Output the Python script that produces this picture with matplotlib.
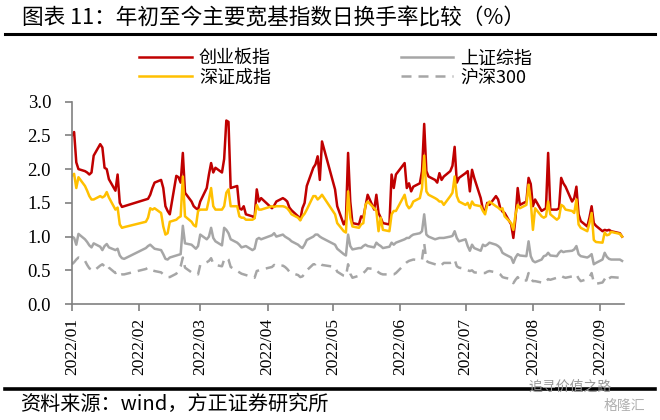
import matplotlib
matplotlib.use('Agg')
import matplotlib.pyplot as plt
from matplotlib.lines import Line2D
import pandas as pd

plt.rcParams['font.family'] = ['Noto Sans CJK SC', 'DejaVu Sans']
plt.rcParams['axes.unicode_minus'] = False

# 交易日（剔除节假日）
holidays = pd.to_datetime(['2022-01-31', '2022-02-01', '2022-02-02', '2022-02-03', '2022-02-04',
                           '2022-04-04', '2022-04-05', '2022-05-02', '2022-05-03', '2022-05-04',
                           '2022-06-03', '2022-09-12'])
dates = pd.bdate_range('2022-01-04', '2022-09-14')
dates = dates[~dates.isin(holidays)]

# 创业板指
cyb = [
    2.50, 2.55, 2.10, 2.00, 1.97, 1.95, 1.92, 1.95, 2.20, 2.37, 2.32, 2.02, 2.00, 1.85, 1.68, 1.92, 1.50, 1.44, 1.45,
    1.55, 1.56, 1.62, 1.72, 1.80, 1.84, 1.72, 1.45, 1.38, 1.33, 1.90, 1.88, 1.80, 2.24, 1.65, 1.52,
    1.45, 1.42, 1.40, 1.52, 1.72, 1.92, 2.09, 1.95, 2.02, 1.95, 2.15, 2.72, 2.70, 1.72, 1.75, 1.42, 1.40, 1.45, 1.33, 1.30, 1.28, 1.70, 1.52,
    1.57, 1.42, 1.46, 1.52, 1.57, 1.55, 1.52, 1.43, 1.39, 1.30, 1.25, 1.42, 1.50, 1.75, 2.02, 2.07, 2.19, 1.84, 2.41,
    1.70, 1.45, 1.18, 1.25, 2.24, 1.52, 1.20, 1.18, 1.30, 1.28, 1.45, 1.62, 1.40, 1.62, 1.35, 1.28, 1.20, 1.18, 1.92,
    1.72, 1.92, 2.09, 1.72, 1.79, 1.67, 1.74, 1.79, 1.97, 2.67, 1.97, 1.89, 1.84, 1.80, 1.94, 1.84, 1.89, 1.97, 2.05, 2.33, 1.80,
    1.87, 1.94, 1.97, 1.67, 1.99, 1.87, 1.57, 1.40, 1.38, 1.50, 1.47, 1.60, 1.55, 1.42, 1.37, 1.35, 1.18, 0.98, 1.28, 1.72, 1.47,
    1.52, 1.87, 1.78, 1.45, 1.55, 1.38, 1.40, 1.42, 2.24, 1.40, 1.40, 1.42, 1.87, 1.79, 1.74, 1.52, 1.57, 1.74, 1.33, 1.23, 1.15, 1.28, 1.45,
    1.20, 1.16, 1.08, 1.10, 1.09, 1.10, 1.08, 1.05, 1.00,
]
# 深证成指
szcz = [
    1.90, 1.93, 1.72, 1.88, 1.75, 1.68, 1.60, 1.55, 1.55, 1.60, 1.58, 1.60, 1.66, 1.58, 1.40, 1.43, 1.18, 1.13, 1.14,
    1.22, 1.28, 1.42, 1.40, 1.42, 1.35, 1.15, 1.03, 1.05, 1.22, 1.25, 1.28, 1.30, 1.89, 1.30, 1.22,
    1.17, 1.15, 1.38, 1.40, 1.40, 1.55, 1.72, 1.45, 1.40, 1.40, 1.45, 1.65, 1.70, 1.45, 1.45, 1.30, 1.28, 1.28, 1.25, 1.25, 1.27, 1.47, 1.40,
    1.40, 1.45, 1.44, 1.45, 1.45, 1.44, 1.42, 1.38, 1.33, 1.28, 1.24, 1.30, 1.34, 1.40, 1.60, 1.60, 1.55, 1.58, 1.62,
    1.33, 1.20, 1.08, 1.06, 1.67, 1.28, 1.15, 1.13, 1.18, 1.20, 1.47, 1.52, 1.42, 1.38, 1.08, 1.28, 1.10, 1.08, 1.33,
    1.38, 1.38, 1.62, 1.47, 1.42, 1.45, 1.52, 1.57, 1.72, 2.20, 1.67, 1.62, 1.57, 1.55, 1.52, 1.52, 1.47, 1.60, 1.65, 1.89, 1.60,
    1.52, 1.47, 1.50, 1.42, 1.52, 1.47, 1.45, 1.38, 1.33, 1.47, 1.52, 1.45, 1.43, 1.40, 1.42, 1.30, 1.20, 1.10, 1.33, 1.47, 1.42,
    1.47, 1.77, 1.52, 1.10, 1.42, 1.30, 1.28, 1.30, 1.52, 1.33, 1.25, 1.28, 1.47, 1.45, 1.40, 1.38, 1.35, 1.55, 1.18, 1.13, 1.08, 1.20, 1.35,
    0.95, 0.92, 0.91, 1.06, 1.02, 1.03, 1.07, 1.04, 1.00,
]
# 上证综指
szzz = [
    1.00, 0.98, 0.88, 1.04, 0.96, 0.92, 0.87, 0.84, 0.90, 0.85, 0.80, 0.86, 0.89, 0.84, 0.80, 0.82, 0.72, 0.68, 0.67,
    0.83, 0.86, 0.88, 0.85, 0.82, 0.80, 0.74, 0.67, 0.66, 0.69, 0.72, 0.73, 0.74, 1.16, 0.90, 0.88,
    0.85, 0.82, 0.86, 1.03, 0.96, 1.00, 1.13, 0.98, 0.93, 0.87, 1.13, 1.10, 1.05, 0.96, 0.91, 0.88, 0.84, 0.85, 0.86, 0.80, 0.82, 0.96, 0.98,
    0.96, 1.02, 1.05, 1.00, 1.03, 1.00, 0.98, 0.96, 0.93, 0.88, 0.85, 0.83, 0.88, 0.95, 1.00, 1.03, 1.03, 1.00, 0.98,
    0.88, 0.82, 0.74, 0.72, 1.03, 0.86, 0.81, 0.83, 0.83, 0.86, 0.88, 0.86, 0.84, 0.91, 0.88, 0.86, 0.83, 0.85, 0.91,
    0.88, 0.91, 0.96, 0.98, 0.98, 1.01, 1.03, 1.05, 1.08, 1.33, 1.03, 1.00, 0.96, 0.97, 0.98, 0.98, 0.98, 1.00, 1.01, 1.08, 0.98,
    0.93, 0.96, 0.86, 0.79, 0.88, 0.83, 0.79, 0.88, 0.86, 0.88, 0.91, 0.88, 0.86, 0.83, 0.76, 0.74, 0.69, 0.61, 0.69, 0.74, 0.72,
    0.71, 0.93, 0.71, 0.64, 0.62, 0.66, 0.71, 0.72, 0.76, 0.72, 0.71, 0.76, 0.79, 0.77, 0.78, 0.79, 0.81, 0.86, 0.74, 0.71, 0.69, 0.71, 0.74,
    0.59, 0.61, 0.66, 0.76, 0.70, 0.67, 0.66, 0.66, 0.64,
]
# 沪深300
hs300 = [
    0.59, 0.62, 0.66, 0.69, 0.64, 0.58, 0.53, 0.51, 0.49, 0.57, 0.59, 0.56, 0.59, 0.54, 0.46, 0.48, 0.43, 0.44, 0.44,
    0.52, 0.54, 0.52, 0.50, 0.49, 0.47, 0.44, 0.42, 0.40, 0.40, 0.45, 0.50, 0.56, 0.69, 0.54, 0.47,
    0.46, 0.45, 0.44, 0.58, 0.62, 0.64, 0.68, 0.60, 0.58, 0.56, 0.66, 0.69, 0.66, 0.55, 0.49, 0.47, 0.45, 0.44, 0.43, 0.40, 0.39, 0.49, 0.50,
    0.51, 0.55, 0.58, 0.56, 0.57, 0.55, 0.52, 0.48, 0.46, 0.43, 0.40, 0.41, 0.45, 0.50, 0.59, 0.59, 0.62, 0.60, 0.58,
    0.55, 0.48, 0.42, 0.41, 0.59, 0.45, 0.39, 0.42, 0.44, 0.46, 0.49, 0.53, 0.52, 0.51, 0.47, 0.45, 0.44, 0.44, 0.44,
    0.44, 0.46, 0.59, 0.62, 0.64, 0.65, 0.66, 0.65, 0.66, 0.90, 0.64, 0.62, 0.59, 0.58, 0.56, 0.58, 0.61, 0.61, 0.62, 0.66, 0.56,
    0.54, 0.52, 0.50, 0.49, 0.50, 0.47, 0.46, 0.46, 0.46, 0.48, 0.49, 0.47, 0.46, 0.44, 0.40, 0.39, 0.37, 0.31, 0.36, 0.40, 0.35,
    0.35, 0.46, 0.38, 0.34, 0.34, 0.32, 0.31, 0.33, 0.37, 0.36, 0.39, 0.41, 0.42, 0.40, 0.39, 0.41, 0.42, 0.44, 0.38, 0.34, 0.37, 0.40, 0.46,
    0.32, 0.30, 0.32, 0.37, 0.42, 0.38, 0.40, 0.39, 0.39,
]
assert len(dates) == len(cyb) == len(szcz) == len(szzz) == len(hs300)

yticks = [0.0, 0.5, 1.0, 1.5, 2.0, 2.5, 3.0]
# 月度刻度（从首个交易日起每隔一个月）
month_ticks = pd.date_range('2022-01-04', periods=9, freq=pd.DateOffset(months=1))

fig = plt.figure(figsize=(6.6, 4.2), dpi=100)
ax = fig.add_axes([0.109, 0.276, 0.836, 0.482])

gray = '#A6A6A6'
l_szzz, = ax.plot(dates, szzz, color=gray, lw=1.8, label='上证综指')
l_hs, = ax.plot(dates, hs300, color=gray, lw=1.8, dashes=(4, 2.8), label='沪深300')
l_cyb, = ax.plot(dates, cyb, color='#C00000', lw=1.8, label='创业板指')
l_sz, = ax.plot(dates, szcz, color='#FFC000', lw=1.8, label='深证成指')

ax.set_ylim(0, 3)
ax.set_xlim(pd.Timestamp('2022-01-04'), pd.Timestamp('2022-09-14 18:00'))
ax.set_yticks(yticks)
ax.set_yticklabels([f'{v:.1f}' for v in yticks], fontfamily='Liberation Serif', fontsize=13.5)
ax.set_xticks(month_ticks)
ax.set_xticklabels([d.strftime('%Y/%m') for d in month_ticks], rotation=90,
                   fontfamily='Liberation Serif', fontsize=12.5)

for s in ['top', 'right']:
    ax.spines[s].set_visible(False)
for s in ['left', 'bottom']:
    ax.spines[s].set_color('#808080')
    ax.spines[s].set_linewidth(1.2)
ax.tick_params(axis='both', direction='out', length=5, width=1.2, color='#808080')
ax.tick_params(axis='y', pad=10)
ax.tick_params(axis='x', pad=5)

ax.legend(handles=[l_cyb, l_sz, l_szzz, l_hs], ncol=2, frameon=False, fontsize=13,
          loc='center', bbox_to_anchor=(0.509, 0.838), bbox_transform=fig.transFigure,
          handlelength=2.9, handletextpad=0.4, columnspacing=7.2, labelspacing=0.08)

# 标题与分隔线
fig.text(0.033, 0.957, '图表 11：年初至今主要宽基指数日换手率比较（%）', fontsize=15.6,
         ha='left', va='center')
fig.add_artist(Line2D([0.008, 0.992], [0.919, 0.919], color='black', lw=2.2))
fig.add_artist(Line2D([0.008, 0.992], [0.074, 0.074], color='black', lw=2.6))

fig.text(0.03, 0.036, '资料来源：wind，方正证券研究所', fontsize=14.5, style='italic',
         ha='left', va='center')
fig.text(0.80, 0.078, '追寻价值之路', fontsize=10, color='#9A9A9A', ha='left', va='center')
fig.text(0.915, 0.033, '格隆汇', fontsize=10, color='#B0B0B0', ha='left', va='center')

fig.savefig('out.png', dpi=100, facecolor='white')
